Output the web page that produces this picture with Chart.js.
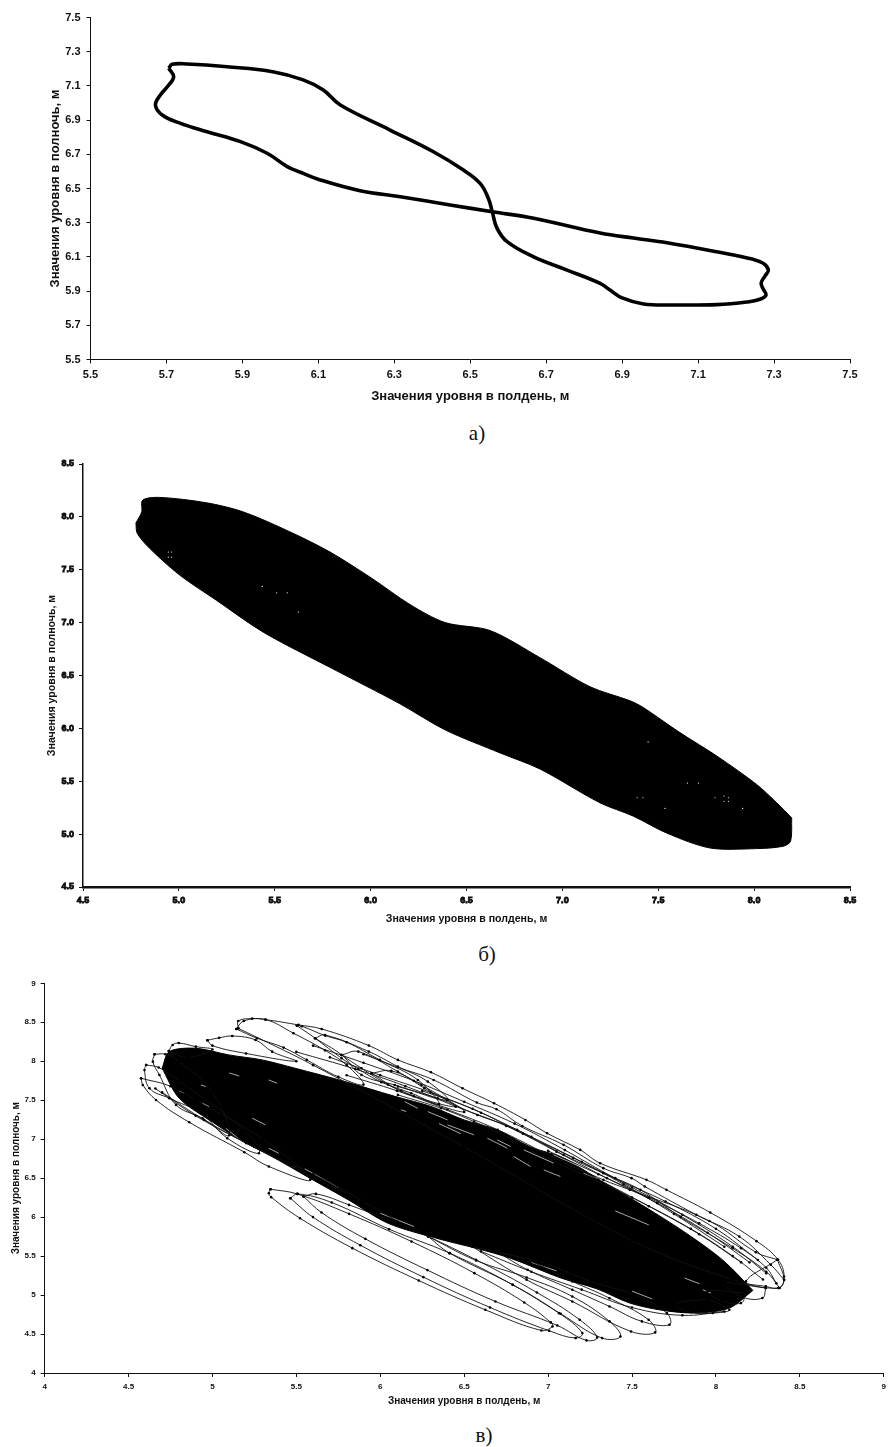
<!DOCTYPE html>
<html lang="ru">
<head>
<meta charset="utf-8">
<title>Значения уровня</title>
<script src="https://cdn.jsdelivr.net/npm/chart.js@4/dist/chart.umd.min.js"></script>
<style>
  body { margin: 0; background: #fff; }
  #page { position: relative; width: 891px; height: 1447px; overflow: hidden; }
  canvas { position: absolute; left: 0; }
  .caption { position: absolute; font: 21px "Liberation Serif", serif; color: #111; transform: translateX(-50%); }
</style>
</head>
<body>
<div id="page">
  <canvas id="chartA" width="891" height="410" style="top:0"></canvas>
  <div class="caption" style="left:477px;top:421px">а)</div>
  <canvas id="chartB" width="891" height="480" style="top:450px"></canvas>
  <div class="caption" style="left:487px;top:942px">б)</div>
  <canvas id="chartC" width="891" height="440" style="top:970px"></canvas>
  <div class="caption" style="left:484px;top:1423px">в)</div>
</div>
<script>
const xTitle = "Значения уровня в полдень, м"
const yTitle = "Значения уровня в полночь, м"

// а) tick labels and the single loop
const ticksA = ["5.5", "5.7", "5.9", "6.1", "6.3", "6.5", "6.7", "6.9", "7.1", "7.3", "7.5"]
const loopA = [
  [5.706, 7.203], [5.715, 7.226], [5.754, 7.228], [5.86, 7.212], [5.98, 7.183], [6.06, 7.135], [6.113, 7.076],
  [6.158, 6.988], [6.289, 6.842], [6.403, 6.715], [6.482, 6.608], [6.526, 6.53], [6.548, 6.44], [6.558, 6.364],
  [6.57, 6.27], [6.597, 6.189], [6.667, 6.1], [6.755, 6.023], [6.842, 5.945], [6.868, 5.906], [6.9, 5.86],
  [6.956, 5.825], [7.035, 5.819], [7.149, 5.821], [7.228, 5.836], [7.263, 5.852], [7.279, 5.877], [7.272, 5.91],
  [7.266, 5.946], [7.276, 5.988], [7.285, 6.023], [7.272, 6.062], [7.245, 6.086], [7.149, 6.13], [7.018, 6.183],
  [6.93, 6.21], [6.842, 6.24], [6.667, 6.326], [6.558, 6.364], [6.447, 6.404], [6.316, 6.452], [6.21, 6.487],
  [6.105, 6.55], [6.053, 6.595], [6.018, 6.628], [5.965, 6.706], [5.895, 6.774], [5.807, 6.832], [5.737, 6.881],
  [5.689, 6.93], [5.671, 6.988], [5.684, 7.047], [5.706, 7.105], [5.719, 7.154], [5.706, 7.203],
]

// б) tick labels, edges of the solid area, small holes in it
const ticksB = ["4.5", "5.0", "5.5", "6.0", "6.5", "7.0", "7.5", "8.0", "8.5"]
const upperB = [
  [4.776, 7.943], [4.806, 8.047], [4.811, 8.158], [4.9, 8.184], [5.145, 8.133], [5.336, 8.047], [5.58, 7.858],
  [5.788, 7.668], [6.007, 7.418], [6.205, 7.172], [6.388, 7.001], [6.623, 6.925], [6.883, 6.669], [7.144, 6.394],
  [7.353, 6.261], [7.422, 6.197], [7.613, 5.96], [7.805, 5.739], [8.013, 5.47], [8.118, 5.296], [8.196, 5.154],
]
const lowerB = [
  [4.776, 7.943], [4.783, 7.844], [4.849, 7.7], [5.006, 7.447], [5.197, 7.21], [5.44, 6.91], [5.788, 6.577],
  [6.153, 6.232], [6.388, 5.986], [6.675, 5.768], [6.883, 5.616], [7.196, 5.296], [7.37, 5.17], [7.544, 5.01],
  [7.77, 4.869], [8.013, 4.863], [8.151, 4.885], [8.19, 4.933], [8.196, 5.154],
]
const holesB = [
  [4.945, 7.668], [4.962, 7.668], [4.945, 7.62], [4.962, 7.62], [5.435, 7.342], [5.51, 7.282], [5.565, 7.282],
  [5.623, 7.1], [7.447, 5.872], [7.652, 5.483], [7.71, 5.483], [7.39, 5.344], [7.42, 5.344], [7.796, 5.344],
  [7.843, 5.36], [7.866, 5.344], [7.843, 5.31], [7.866, 5.31], [7.535, 5.243], [7.94, 5.243],
]

// в) tick labels, dense middle, separate orbits around it
const ticksC = ["4", "4.5", "5", "5.5", "6", "6.5", "7", "7.5", "8", "8.5", "9"]
const coreUpperC = [
  [4.7, 7.91], [4.743, 8.124], [4.901, 8.166], [5.098, 8.081], [5.296, 8.017], [5.493, 7.91], [5.79, 7.739],
  [6.086, 7.55], [6.302, 7.42], [6.5, 7.247], [6.697, 7.12], [6.895, 6.9], [7.092, 6.76], [7.29, 6.5],
  [7.487, 6.25], [7.784, 5.85], [8.04, 5.45], [8.22, 5.06],
]
const coreLowerC = [
  [4.7, 7.91], [4.802, 7.525], [5.0, 7.22], [5.19, 6.96], [5.336, 6.8], [5.58, 6.5], [5.811, 6.22], [6.047, 5.92],
  [6.35, 5.72], [6.571, 5.6], [6.779, 5.47], [7.075, 5.22], [7.29, 5.08], [7.487, 4.897], [7.685, 4.803],
  [7.882, 4.77], [8.08, 4.833], [8.22, 5.06],
]
const lowRing1 = [
  [5.346, 6.358], [5.336, 6.307], [5.35, 6.256], [5.522, 5.986], [5.834, 5.602], [6.229, 5.187], [6.626, 4.811],
  [6.96, 4.546], [7.026, 4.597], [7.016, 4.649], [6.858, 4.905], [6.561, 5.281], [6.186, 5.687], [5.814, 6.042],
  [5.504, 6.298], [5.346, 6.358],
]
const lowRing2 = [
  [5.464, 6.243], [5.599, 6.0], [5.881, 5.64], [6.257, 5.23], [6.654, 4.841], [7.006, 4.542], [7.164, 4.448],
  [7.204, 4.512], [7.065, 4.768], [6.789, 5.132], [6.413, 5.538], [6.053, 5.845], [5.711, 6.187], [5.508, 6.298],
  [5.464, 6.243],
]
const lowRing3 = [
  [5.543, 6.264], [5.65, 6.059], [5.911, 5.721], [6.281, 5.32], [6.686, 4.918], [7.055, 4.61], [7.229, 4.418],
  [7.292, 4.456], [7.188, 4.683], [6.933, 5.033], [6.571, 5.452], [6.186, 5.845], [5.814, 6.157], [5.617, 6.298],
  [5.543, 6.264],
]
const lowRing4 = [
  [6.285, 5.751], [6.413, 5.538], [6.789, 5.132], [7.075, 4.76], [7.322, 4.448], [7.431, 4.469], [7.366, 4.662],
  [7.144, 4.982], [6.872, 5.226], [6.571, 5.444], [6.285, 5.751],
]
const lowRing5 = [
  [6.55, 5.62], [6.872, 5.196], [7.144, 4.918], [7.494, 4.533], [7.638, 4.521], [7.599, 4.683], [7.366, 4.96],
  [7.144, 5.175], [6.872, 5.452], [6.55, 5.62],
]
const lowRing6 = [
  [6.7, 5.55], [6.878, 5.324], [7.144, 5.068], [7.366, 4.854], [7.559, 4.662], [7.723, 4.619], [7.708, 4.768],
  [7.514, 5.004], [7.253, 5.174], [6.976, 5.409], [6.7, 5.55],
]
const topRing1 = [
  [5.154, 8.423], [5.154, 8.517], [5.237, 8.547], [5.316, 8.534], [5.513, 8.466], [5.651, 8.414], [5.932, 8.201],
  [6.105, 8.017], [6.302, 7.858], [6.49, 7.653], [6.678, 7.461], [6.865, 7.247], [6.994, 7.076], [7.191, 6.863],
  [7.31, 6.692], [7.586, 6.478], [7.705, 6.35], [7.966, 6.059], [8.242, 5.692], [8.37, 5.453], [8.406, 5.238],
  [8.373, 5.09], [8.1, 5.2], [7.5, 5.7], [6.5, 6.9], [5.6, 7.95], [5.154, 8.423],
]
const topRing2 = [
  [5.142, 8.414], [5.266, 8.295], [5.424, 8.175], [5.562, 8.017], [5.75, 7.8], [5.9, 7.7], [5.8, 7.95], [5.671, 8.14],
  [5.483, 8.359], [5.316, 8.534], [5.187, 8.517], [5.142, 8.414],
]
const topRing3 = [
  [5.503, 8.457], [5.612, 8.295], [5.77, 8.038], [5.869, 7.901], [6.007, 7.731], [6.185, 7.59], [6.35, 7.45],
  [6.224, 7.76], [5.997, 8.017], [5.8, 8.243], [5.671, 8.329], [5.533, 8.449], [5.503, 8.457],
]
const topRing4 = [
  [5.612, 8.295], [5.77, 8.081], [5.888, 7.825], [6.086, 7.696], [6.4, 7.5], [6.283, 7.739], [6.105, 7.931],
  [5.932, 8.124], [5.671, 8.337], [5.612, 8.295],
]
const topRing5 = [
  [5.77, 8.081], [5.888, 7.91], [6.046, 7.7], [6.2, 7.55], [6.45, 7.42], [6.263, 7.654], [6.105, 7.867],
  [5.869, 8.124], [5.77, 8.081],
]
const topRing6 = [[5.948, 7.846], [6.125, 7.62], [6.5, 7.35], [6.244, 7.696], [6.066, 7.876], [5.948, 7.846]]
const midLine1 = [
  [5.9, 8.09], [6.105, 7.923], [6.318, 7.76], [6.575, 7.47], [6.693, 7.384], [6.846, 7.17], [7.092, 6.927],
  [7.329, 6.628], [7.497, 6.5], [7.576, 6.393], [7.883, 6.03], [8.139, 5.751], [8.327, 5.389], [8.406, 5.196],
]
const midLine2 = [
  [6.105, 7.675], [6.342, 7.525], [6.579, 7.311], [6.816, 7.119], [7.092, 6.799], [7.329, 6.564], [7.55, 6.35],
  [7.79, 6.0], [8.1, 5.6], [8.3, 5.3], [8.38, 5.09],
]
const midLine3 = [
  [6.105, 7.568], [6.362, 7.397], [6.559, 7.226], [6.796, 6.991], [7.092, 6.713], [7.329, 6.478], [7.487, 6.35],
  [7.961, 5.95], [8.238, 5.55], [8.366, 5.453],
]
const midLine4 = [
  [7.0, 6.85], [7.3, 6.55], [7.6, 6.25], [7.9, 5.92], [8.15, 5.6], [8.3, 5.35], [8.36, 5.15],
]
const midLine5 = [
  [6.9, 6.85], [7.2, 6.55], [7.5, 6.25], [7.85, 5.85], [8.1, 5.5], [8.28, 5.2],
]
const bandLine1 = [
  [5.6, 8.2], [5.9, 7.98], [6.2, 7.75], [6.5, 7.48], [6.8, 7.2], [7.1, 6.86], [7.4, 6.5], [7.7, 6.2], [8.0, 5.85], [8.25, 5.45],
]
const bandLine2 = [
  [5.7, 8.05], [6.0, 7.82], [6.3, 7.6], [6.6, 7.34], [6.9, 7.03], [7.2, 6.71], [7.5, 6.38], [7.8, 6.03], [8.1, 5.62], [8.3, 5.28],
]
const bandLine3 = [
  [5.5, 8.12], [5.85, 7.9], [6.15, 7.68], [6.45, 7.42], [6.75, 7.17], [7.05, 6.84], [7.35, 6.5], [7.65, 6.18], [7.95, 5.8], [8.2, 5.42],
]
const bandLine4 = [
  [5.8, 7.82], [6.1, 7.62], [6.4, 7.38], [6.7, 7.12], [7.0, 6.8], [7.3, 6.48], [7.6, 6.14], [7.9, 5.78], [8.15, 5.42],
]
const bandLine5 = [[6.25, 7.62], [6.55, 7.39], [6.85, 7.07], [7.15, 6.76], [7.45, 6.42], [7.75, 6.04], [8.05, 5.62]]
const lowBand1 = [[6.6, 5.56], [6.9, 5.3], [7.2, 5.07], [7.5, 4.84], [7.8, 4.74], [8.05, 4.79]]
const lowLine1 = [[4.7, 7.6], [4.95, 7.25], [5.25, 6.9], [5.6, 6.55], [5.9, 6.2], [6.1, 5.95]]
const lowLine2 = [[4.66, 7.65], [4.9, 7.3], [5.2, 6.95], [5.5, 6.62], [5.8, 6.3]]
const leftRing1 = [
  [4.575, 7.781], [4.585, 7.696], [4.664, 7.503], [4.862, 7.217], [5.19, 6.833], [5.336, 6.65], [5.583, 6.48],
  [5.3, 7.0], [4.9, 7.5], [4.75, 7.68], [4.575, 7.781],
]
const leftRing2 = [
  [4.605, 7.952], [4.595, 7.888], [4.625, 7.653], [4.743, 7.525], [4.931, 7.332], [5.089, 7.012], [5.277, 6.82],
  [5.2, 7.1], [4.8, 7.75], [4.68, 7.92], [4.605, 7.952],
]
const leftRing3 = [
  [4.655, 8.089], [4.645, 7.995], [4.684, 7.824], [4.783, 7.44], [4.941, 7.268], [5.1, 7.05], [5.0, 7.6],
  [4.8, 8.0], [4.72, 8.09], [4.655, 8.089],
]
const leftRing4 = [[4.74, 8.13], [4.763, 8.209], [4.799, 8.234], [4.901, 8.187], [5.0, 8.15], [4.85, 8.05], [4.74, 8.13]]
const leftRing5 = [
  [4.97, 8.27], [5.04, 8.3], [5.118, 8.324], [5.257, 8.273], [5.356, 8.123], [5.5, 8.0], [5.2, 8.1], [5.0, 8.2],
  [4.97, 8.27],
]
const rightRing1 = [[8.366, 5.453], [8.406, 5.197], [8.372, 5.09], [8.297, 5.111], [8.179, 5.175], [8.366, 5.453]]
const rightRing2 = [[8.297, 5.09], [8.277, 4.962], [8.159, 4.974], [8.05, 5.15], [8.297, 5.09]]
const rightRing3 = [[8.179, 5.026], [8.149, 4.897], [8.03, 4.93], [7.95, 5.05], [8.179, 5.026]]
const rightRing4 = [[7.95, 4.95], [8.08, 4.812], [7.981, 4.769], [7.853, 4.778], [7.75, 4.88], [7.95, 4.95]]
const gapsC = [
  [[5.335, 7.76], [5.385, 7.718]], [[4.94, 7.461], [4.98, 7.418]], [[5.079, 7.141], [5.177, 6.97]],
  [[4.861, 7.354], [5.01, 7.12]], [[6.125, 7.376], [6.155, 7.355]], [[4.931, 7.696], [4.96, 7.675]],
  [[4.802, 7.62], [4.832, 7.59]], [[5.237, 7.269], [5.316, 7.184]], [[5.335, 6.884], [5.395, 6.82]],
  [[7.813, 5.218], [7.902, 5.145]], [[7.922, 5.068], [7.971, 5.026]], [[8.198, 5.453], [8.277, 5.346]],
  [[8.08, 5.624], [8.179, 5.474]], [[6.974, 6.606], [7.073, 6.521]], [[6.697, 6.991], [6.776, 6.906]],
  [[5.55, 6.62], [5.75, 6.38]], [[6.0, 6.05], [6.2, 5.88]], [[6.9, 5.42], [7.05, 5.31]],
  [[7.4, 6.08], [7.6, 5.9]], [[6.35, 7.2], [6.48, 7.07]], [[5.1, 7.85], [5.16, 7.81]], [[7.5, 5.05], [7.62, 4.95]],
  [[6.638, 7.012], [6.757, 6.884]], [[6.855, 6.863], [7.033, 6.692]], [[7.033, 6.799], [7.211, 6.628]],
  [[7.211, 6.564], [7.408, 6.393]], [[6.401, 7.183], [6.559, 7.055]], [[6.145, 7.482], [6.223, 7.397]],
  [[6.283, 7.354], [6.401, 7.247]], [[6.796, 6.777], [6.895, 6.649]],
]

const toPoints = (pairs) => pairs.map(([x, y]) => ({ x: x, y: y }))

function axis(labels, width, size, heavy, tickPad, title, titleSize, titlePad, afterFit) {
  const values = labels.map(Number)
  return {
    type: "linear",
    min: values[0],
    max: values[values.length - 1],
    afterBuildTicks: (scale) => {
      scale.ticks = values.map((v) => ({ value: v }))
    },
    afterFit: afterFit,
    grid: { drawOnChartArea: false, color: "#111", tickLength: 4, tickWidth: 1 },
    border: { color: "#111", width: width },
    ticks: {
      autoSkip: false,
      maxRotation: 0,
      minRotation: 0,
      padding: tickPad,
      color: "#111",
      textStrokeColor: "#000",
      textStrokeWidth: heavy,
      font: { family: "Liberation Sans", weight: "bold", size: size },
      callback: (value, index) => labels[index],
    },
    title: {
      display: true,
      text: title,
      color: "#111",
      padding: titlePad,
      font: { family: "Liberation Sans", weight: "bold", size: titleSize },
    },
  }
}

function draw(id, datasets, padding, xAxis, yAxis) {
  new Chart(document.getElementById(id).getContext("2d"), {
    type: "scatter",
    data: { datasets: datasets },
    options: {
      responsive: false,
      animation: false,
      devicePixelRatio: 1,
      layout: { padding: padding },
      plugins: { legend: { display: false }, tooltip: { enabled: false } },
      scales: { x: xAxis, y: yAxis },
    },
  })
}

// а)
draw(
  "chartA",
  [{ data: toPoints(loopA), showLine: true, borderColor: "#000", borderWidth: 3.6, tension: 0.4, pointRadius: 0 }],
  { top: 17.5, right: 41 },
  axis(ticksA, 1, 11, 0, 5, xTitle, 13, { top: 0, bottom: 6 }, (s) => { s.height = 50.5 }),
  axis(ticksA, 1, 11, 0, 6, yTitle, 13, { top: 48, bottom: 0 }, (s) => { s.width = 90.5 })
)

// б)
draw(
  "chartB",
  [
    { data: toPoints(holesB), pointRadius: 0.6, pointBackgroundColor: "#fff", pointBorderWidth: 0, order: 1 },
    { data: toPoints(upperB), showLine: true, fill: "+1", backgroundColor: "#000", borderColor: "#000", borderWidth: 1, pointRadius: 0, tension: 0.3, order: 2 },
    { data: toPoints(lowerB), showLine: true, borderColor: "#000", borderWidth: 1, pointRadius: 0, tension: 0.3, order: 2 },
  ],
  { top: 14, right: 41 },
  axis(ticksB, 2.5, 9, 0.8, 4, xTitle, 10.6, { top: 0, bottom: 5 }, (s) => { s.height = 43 }),
  axis(ticksB, 1.5, 9, 0.8, 5, yTitle, 10.6, { top: 46, bottom: 0 }, (s) => { s.width = 83 })
)

// в)
const orbits = [
  lowRing1, lowRing2, lowRing3, lowRing4, lowRing5, lowRing6,
  topRing1, topRing2, topRing3, topRing4, topRing5, topRing6,
  midLine1, midLine2, midLine3, midLine4, midLine5,
  bandLine1, bandLine2, bandLine3, bandLine4, bandLine5, lowBand1, lowLine1, lowLine2,
  leftRing1, leftRing2, leftRing3, leftRing4, leftRing5,
  rightRing1, rightRing2, rightRing3, rightRing4,
]
draw(
  "chartC",
  [
    ...orbits.map((orbit) => ({
      data: toPoints(orbit),
      showLine: true,
      borderColor: "#111",
      borderWidth: 0.9,
      tension: 0.4,
      pointRadius: 1.3,
      pointBackgroundColor: "#000",
      pointBorderWidth: 0,
      order: 1,
    })),
    ...gapsC.map((gap) => ({
      data: toPoints(gap),
      showLine: true,
      borderColor: "#eee",
      borderWidth: 0.7,
      pointRadius: 0,
      order: 2,
    })),
    { data: toPoints(coreUpperC), showLine: true, fill: "+1", backgroundColor: "#000", borderColor: "#000", borderWidth: 1, pointRadius: 0, tension: 0.3, order: 3 },
    { data: toPoints(coreLowerC), showLine: true, borderColor: "#000", borderWidth: 1, pointRadius: 0, tension: 0.3, order: 3 },
  ],
  { top: 13.3, right: 2.4 },
  axis(ticksC, 1, 8, 0, 5, xTitle, 10, { top: 0, bottom: 2.5 }, (s) => { s.height = 37 }),
  axis(ticksC, 1, 8, 0, 5, yTitle, 10, { top: 10, bottom: 0 }, (s) => { s.width = 44.6 })
)
</script>
</body>
</html>
